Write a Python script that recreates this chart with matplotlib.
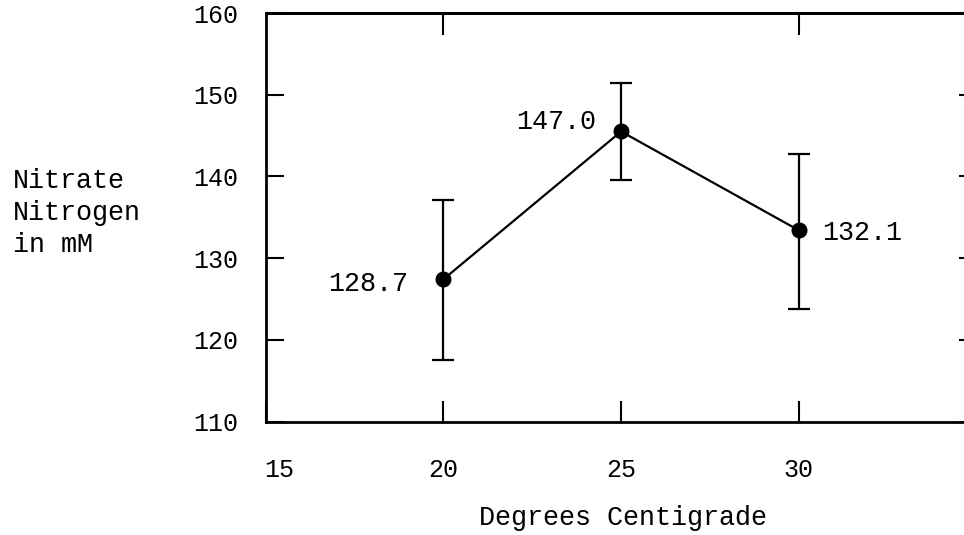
import matplotlib.pyplot as plt
from matplotlib.transforms import ScaledTranslation

plt.rcParams['font.family'] = ['Liberation Mono', 'DejaVu Sans Mono']

# temperatures and plotted nitrate values (as drawn on the original)
temps = [20, 25, 30]
nitrate = [127.4, 145.5, 133.4]
err_low = [9.9, 6.0, 9.6]
err_high = [9.7, 5.9, 9.3]
point_labels = ['128.7', '147.0', '132.1']
label_offsets = [(-25, -3), (-18, 7), (17, -2)]
label_ha = ['right', 'right', 'left']

xtick_vals = [15, 20, 25, 30]
ytick_vals = [110, 120, 130, 140, 150, 160]

FS = 18
LFS = 19.3

fig = plt.figure(figsize=(9.64, 5.35), dpi=100)
ax = fig.add_axes([0.2755, 0.2121, 0.7376, 0.7636])

ax.errorbar(temps, nitrate, yerr=[err_low, err_high], color='black',
            marker='o', markersize=10.5, linewidth=1.6, elinewidth=1.6,
            capsize=8, capthick=1.6)

for t, v, lab, off, ha in zip(temps, nitrate, point_labels, label_offsets, label_ha):
    ax.annotate(lab, (t, v), xytext=off, textcoords='offset points',
                ha=ha, va='center', fontsize=LFS)

ax.set_xlim(15, 35)
ax.set_ylim(110, 160)
ax.set_xticks(xtick_vals)
ax.set_yticks(ytick_vals)
ax.tick_params(axis='x', direction='in', length=15, width=1.5, pad=26, labelsize=FS)
ax.tick_params(axis='y', direction='in', length=13, width=1.5, pad=20, labelsize=FS,
               right=True)

# the "15" was typed a little to the right of the corner
lbl15 = ax.get_xticklabels()[0]
lbl15.set_transform(lbl15.get_transform() + ScaledTranslation(0.14, 0, fig.dpi_scale_trans))

top = ax.secondary_xaxis('top')
top.set_xticks([20, 30])
top.tick_params(direction='in', length=16, width=1.5, labeltop=False)
top.spines['top'].set_linewidth(2)

for s in ['left', 'bottom', 'top']:
    ax.spines[s].set_linewidth(2)
ax.spines['right'].set_visible(False)

fig.text(0.646, 0.032, 'Degrees Centigrade', fontsize=LFS, ha='center', va='center')
fig.text(0.013, 0.602, 'Nitrate\nNitrogen\nin mM', fontsize=LFS, ha='left',
         va='center', linespacing=1.3)

fig.savefig('out.png', dpi=100)
